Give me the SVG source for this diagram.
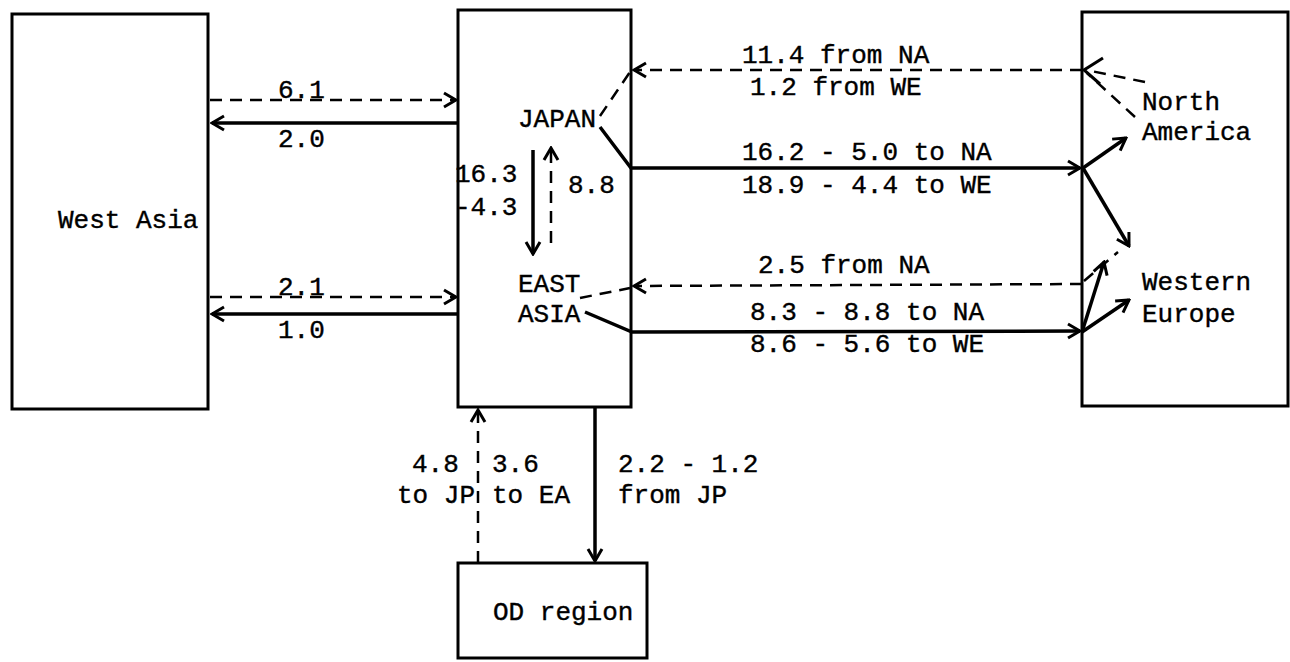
<svg xmlns="http://www.w3.org/2000/svg" width="1290" height="662" viewBox="0 0 1290 662">
<style>
.box{fill:#fff;stroke:#000;stroke-width:3}
.t{font-family:"Liberation Mono","DejaVu Sans Mono",monospace;font-size:26px;fill:#000;stroke:#000;stroke-width:0.4}
.s{fill:none;stroke:#000;stroke-width:3.5}
.d{fill:none;stroke:#000;stroke-width:2.5;stroke-dasharray:12 8}
</style>
<defs>
<marker id="ah" viewBox="0 0 16 18" refX="14" refY="9" markerWidth="16" markerHeight="18" markerUnits="userSpaceOnUse" orient="auto">
<path d="M2,2 L14,9 L2,16" fill="none" stroke="#000" stroke-width="3" stroke-dasharray="none"/>
</marker>
</defs>
<rect width="1290" height="662" fill="#fff"/>
<g id="west-asia">
<rect class="box" x="12" y="14" width="196" height="395"/>
<text class="t" x="58" y="228">West Asia</text>
</g>
<g id="center">
<rect class="box" x="458" y="10" width="173" height="397"/>
<text class="t" x="518" y="127">JAPAN</text>
<text class="t" x="518" y="292">EAST</text>
<text class="t" x="518" y="322">ASIA</text>
</g>
<g id="right">
<rect class="box" x="1082" y="12" width="206" height="394"/>
<text class="t" x="1142" y="110">North</text>
<text class="t" x="1142" y="140">America</text>
<text class="t" x="1142" y="290">Western</text>
<text class="t" x="1142" y="322">Europe</text>
</g>
<g id="od">
<rect class="box" x="458" y="563" width="189" height="95"/>
<text class="t" x="493" y="620">OD region</text>
</g>
<g id="connectors">
<path class="d" d="M210,100 L456,100" marker-end="url(#ah)"/>
<path class="s" d="M458,123 L212,123" marker-end="url(#ah)"/>
<path class="d" d="M210,297 L456,297" marker-end="url(#ah)"/>
<path class="s" d="M458,314 L212,314" marker-end="url(#ah)"/>
<path class="d" d="M1082,70 L634,70" marker-end="url(#ah)"/>
<path class="d" d="M600,116 L630,72"/>
<path class="d" d="M1145,82 L1086,70"/>
<path class="d" d="M1135,117 L1087,73"/>
<path fill="none" stroke="#000" stroke-width="3" d="M1103,58 L1084,70 L1100,84"/>
<path class="s" d="M600,127 L631,168 L1080,168" marker-end="url(#ah)"/>
<path class="s" d="M1083,168 L1126,138" marker-end="url(#ah)"/>
<path class="s" d="M1083,168 L1129,246" marker-end="url(#ah)"/>
<path class="d" d="M1082,284 L634,286" marker-end="url(#ah)"/>
<path class="d" d="M580,298 L630,288"/>
<path class="d" d="M1084,281 L1118,252"/>
<path class="s" d="M585,312 L632,332 L1080,331" marker-end="url(#ah)"/>
<path class="s" d="M1082,332 L1104,262" marker-end="url(#ah)"/>
<path class="s" d="M1082,332 L1129,300" marker-end="url(#ah)"/>
<path class="s" d="M533,150 L533,254" marker-end="url(#ah)"/>
<path class="d" d="M551,243 L551,148" marker-end="url(#ah)"/>
<path class="d" d="M478,563 L478,410" marker-end="url(#ah)"/>
<path class="s" d="M595,408 L595,561" marker-end="url(#ah)"/>
</g>
<g id="labels">
<text class="t" x="278" y="98">6.1</text>
<text class="t" x="278" y="147">2.0</text>
<text class="t" x="278" y="295">2.1</text>
<text class="t" x="278" y="338">1.0</text>
<text class="t" x="742" y="63">11.4 from NA</text>
<text class="t" x="750" y="95">1.2 from WE</text>
<text class="t" x="742" y="160">16.2 - 5.0 to NA</text>
<text class="t" x="742" y="193">18.9 - 4.4 to WE</text>
<text class="t" x="758" y="273">2.5 from NA</text>
<text class="t" x="750" y="320">8.3 - 8.8 to NA</text>
<text class="t" x="750" y="352">8.6 - 5.6 to WE</text>
<text class="t" x="455" y="182">16.3</text>
<text class="t" x="455" y="215">-4.3</text>
<text class="t" x="568" y="193">8.8</text>
<text class="t" x="412" y="472">4.8</text>
<text class="t" x="492" y="472">3.6</text>
<text class="t" x="397" y="503">to JP</text>
<text class="t" x="492" y="503">to EA</text>
<text class="t" x="618" y="472">2.2 - 1.2</text>
<text class="t" x="618" y="503">from JP</text>
</g>
</svg>
